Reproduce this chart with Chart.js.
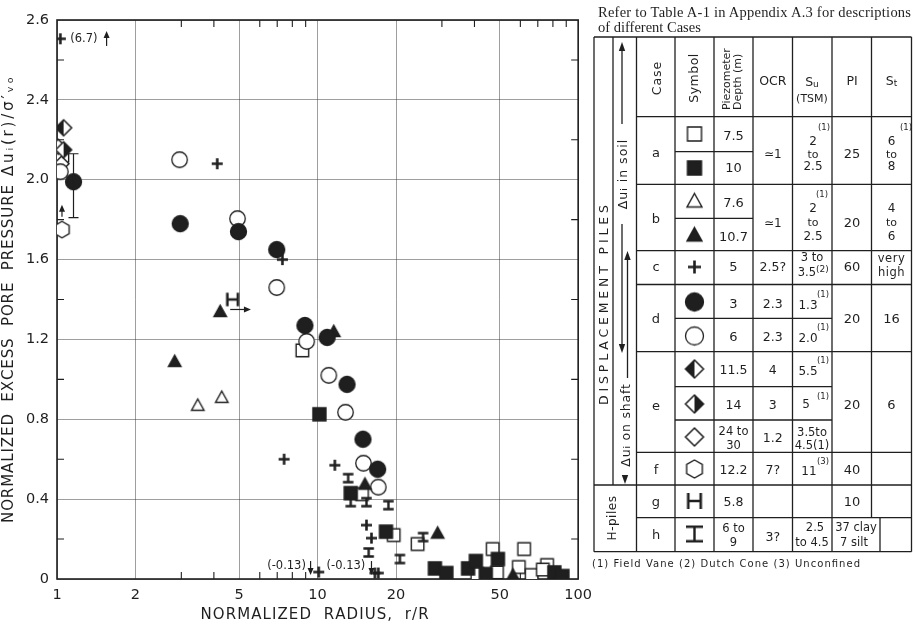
<!DOCTYPE html>
<html>
<head>
<meta charset="utf-8">
<script src="https://cdn.jsdelivr.net/npm/chart.js@4.4.1/dist/chart.umd.min.js"></script>
<style>
  html, body { margin: 0; padding: 0; background: #fff; }
  #wrap { position: relative; width: 915px; height: 627px; overflow: hidden; }
  #plot { position: absolute; left: 0; top: 0; }
  #table { position: absolute; left: 0; top: 0; }
</style>
</head>
<body>
<div id="wrap">
  <canvas id="plot" width="600" height="627"></canvas>
  <svg id="table" width="915" height="627" xmlns="http://www.w3.org/2000/svg"></svg>
</div>
<script>
// axes
const xTickValues = [1, 2, 5, 10, 20, 50, 100];
const xTickLabels = ['1', '2', '5', '10', '20', '50', '100'];
const yTickValues = [0, 0.4, 0.8, 1.2, 1.6, 2.0, 2.4, 2.8];
const yTickLabels = ['0', '0.4', '0.8', '1.2', '1.6', '2.0', '2.4', '2.6'];
const xMinorTicks = [3, 4, 6, 7, 8, 9, 30, 40, 60, 70, 80, 90];
const yMinorTicks = [0.2, 0.6, 1.0, 1.4, 1.8, 2.2, 2.6];

// data: [r/R, du/sigma]
const caseA_75 = [[8.74, 1.145], [14.8, 0.425], [19.6, 0.22], [24.2, 0.175], [47, 0.15], [62, 0.15],
  [59.2, 0.06], [48.8, 0.033], [41, 0.025], [66.3, 0.02], [76, 0.07], [73.2, 0.047]];
const caseA_10 = [[10.16, 0.825], [13.4, 0.43], [18.3, 0.237], [28.2, 0.053], [31.2, 0.03], [37.8, 0.053],
  [40.5, 0.09], [44.2, 0.025], [49.2, 0.10], [81, 0.033], [87, 0.015]];
const caseB_76 = [[3.47, 0.87], [4.29, 0.91]];
const caseB_107 = [[2.83, 1.09], [4.23, 1.34], [11.54, 1.24], [15.2, 0.475], [28.9, 0.23], [56.2, 0.02]];
const caseC = [[1.03, 2.706], [4.12, 2.08], [7.33, 1.60], [7.44, 0.60], [11.65, 0.57], [15.4, 0.27],
  [16.1, 0.205], [10.1, 0.035], [16.6, 0.03], [17.1, 0.03]];
const caseD_3 = [[1.157, 1.99], [2.97, 1.78], [4.97, 1.74], [6.97, 1.65], [8.94, 1.27], [10.88, 1.21],
  [12.97, 0.975], [14.93, 0.70], [17.0, 0.55]];
const caseD_6 = [[1.03, 2.04], [2.955, 2.10], [4.93, 1.805], [6.97, 1.46], [9.08, 1.19], [11.04, 1.02],
  [12.8, 0.835], [15.0, 0.58], [17.1, 0.46]];
const caseE_115 = [[1.06, 2.26]];
const caseE_14 = [[1.06, 2.15]];
const caseE_24 = [[1.01, 2.165], [1.04, 2.08]];
const caseF = [[1.045, 1.75], [1.04, 2.11]];
const caseG = [[4.72, 1.40]];
const caseH = [[13.1, 0.505], [13.4, 0.385], [15.4, 0.385], [18.7, 0.37], [15.7, 0.133], [20.7, 0.10], [25.4, 0.21]];

// notes on the plot
const errBar = { x: 1.157, low: 1.81, high: 2.13 };
const arrowMarks = [
  [1.55, 2.67, 1.55, 2.745],
  [1.045, 1.815, 1.045, 1.875],
  [4.62, 1.35, 5.55, 1.35],
  [9.4, 0.09, 9.4, 0.02],
  [16.1, 0.09, 16.1, 0.02]
];
const noteLabels = [
  ['(6.7)', 1.124, 2.706, 'left'],
  ['(-0.13)', 9.02, 0.065, 'right'],
  ['(-0.13)', 15.25, 0.065, 'right']
];

const ink = '#1f1f1f';
const fontFam = 'DejaVu Sans';

// marker shapes
function drawSymbol(ctx, kind, cx, cy, s) {
  const h = s / 2;
  ctx.save();
  ctx.strokeStyle = ink;
  ctx.fillStyle = ink;
  ctx.lineWidth = 1.4;
  ctx.beginPath();
  if (kind === 'sq' || kind === 'sqF') {
    ctx.rect(cx - h, cy - h, s, s);
    ctx.fillStyle = kind === 'sqF' ? ink : '#fff';
    ctx.fill();
    ctx.stroke();
  } else if (kind === 'tri' || kind === 'triF') {
    ctx.moveTo(cx, cy - h);
    ctx.lineTo(cx + h, cy + h * 0.8);
    ctx.lineTo(cx - h, cy + h * 0.8);
    ctx.closePath();
    ctx.fillStyle = kind === 'triF' ? ink : '#fff';
    ctx.fill();
    ctx.stroke();
  } else if (kind === 'plus') {
    ctx.lineWidth = 2.6;
    ctx.moveTo(cx - h, cy); ctx.lineTo(cx + h, cy);
    ctx.moveTo(cx, cy - h); ctx.lineTo(cx, cy + h);
    ctx.stroke();
  } else if (kind === 'dot' || kind === 'ring') {
    ctx.arc(cx, cy, h - 0.5, 0, Math.PI * 2);
    ctx.fillStyle = kind === 'dot' ? ink : '#fff';
    ctx.fill();
    ctx.lineWidth = 1.3;
    ctx.stroke();
  } else if (kind === 'dm' || kind === 'dmL' || kind === 'dmR') {
    ctx.moveTo(cx, cy - h); ctx.lineTo(cx + h, cy); ctx.lineTo(cx, cy + h); ctx.lineTo(cx - h, cy);
    ctx.closePath();
    ctx.fillStyle = '#fff';
    ctx.fill();
    if (kind !== 'dm') {
      const sgn = kind === 'dmL' ? -1 : 1;
      ctx.save();
      ctx.beginPath();
      ctx.moveTo(cx, cy - h); ctx.lineTo(cx + sgn * h, cy); ctx.lineTo(cx, cy + h);
      ctx.closePath();
      ctx.fillStyle = ink;
      ctx.fill();
      ctx.restore();
      ctx.beginPath();
      ctx.moveTo(cx, cy - h); ctx.lineTo(cx + h, cy); ctx.lineTo(cx, cy + h); ctx.lineTo(cx - h, cy);
      ctx.closePath();
    }
    ctx.lineWidth = 1.5;
    ctx.stroke();
  } else if (kind === 'hex') {
    for (let k = 0; k < 6; k++) {
      const a = -Math.PI / 2 + k * Math.PI / 3;
      const px = cx + h * Math.cos(a), py = cy + h * Math.sin(a);
      if (k === 0) ctx.moveTo(px, py); else ctx.lineTo(px, py);
    }
    ctx.closePath();
    ctx.fillStyle = '#fff';
    ctx.fill();
    ctx.stroke();
  } else if (kind === 'H') {
    ctx.lineWidth = 2.6;
    ctx.moveTo(cx - h * 0.78, cy - h); ctx.lineTo(cx - h * 0.78, cy + h);
    ctx.moveTo(cx + h * 0.78, cy - h); ctx.lineTo(cx + h * 0.78, cy + h);
    ctx.moveTo(cx - h * 0.78, cy); ctx.lineTo(cx + h * 0.78, cy);
    ctx.stroke();
  } else if (kind === 'I') {
    ctx.lineWidth = 2.4;
    ctx.moveTo(cx - h, cy - h + 1.2); ctx.lineTo(cx + h, cy - h + 1.2);
    ctx.moveTo(cx - h, cy + h - 1.2); ctx.lineTo(cx + h, cy + h - 1.2);
    ctx.moveTo(cx, cy - h + 1.2); ctx.lineTo(cx, cy + h - 1.2);
    ctx.stroke();
  }
  ctx.restore();
}

function makeSymbol(kind, s) {
  const n = Math.ceil(s) + 6;
  const cv = document.createElement('canvas');
  cv.width = n;
  cv.height = n;
  drawSymbol(cv.getContext('2d'), kind, n / 2, n / 2, s);
  return cv;
}

// first in list = drawn on top
const series = [
  { data: caseD_3, kind: 'dot', size: 17 },
  { data: caseB_107, kind: 'triF', size: 12.5 },
  { data: caseA_10, kind: 'sqF', size: 13 },
  { data: caseD_6, kind: 'ring', size: 16.5 },
  { data: caseH, kind: 'I', size: 10.5 },
  { data: caseG, kind: 'H', size: 13.5 },
  { data: caseC, kind: 'plus', size: 11 },
  { data: caseE_115, kind: 'dmL', size: 16 },
  { data: caseE_14, kind: 'dmR', size: 16 },
  { data: caseE_24, kind: 'dm', size: 15 },
  { data: caseF, kind: 'hex', size: 16.5 },
  { data: caseA_75, kind: 'sq', size: 12.5 },
  { data: caseB_76, kind: 'tri', size: 12.5 }
];

function drawArrow(ctx, x0, y0, x1, y1) {
  const ang = Math.atan2(y1 - y0, x1 - x0);
  const hl = 7, hw = 3;
  ctx.beginPath();
  ctx.moveTo(x0, y0);
  ctx.lineTo(x1 - Math.cos(ang) * hl * 0.7, y1 - Math.sin(ang) * hl * 0.7);
  ctx.stroke();
  ctx.beginPath();
  ctx.moveTo(x1, y1);
  ctx.lineTo(x1 - Math.cos(ang) * hl - Math.sin(ang) * hw, y1 - Math.sin(ang) * hl + Math.cos(ang) * hw);
  ctx.lineTo(x1 - Math.cos(ang) * hl + Math.sin(ang) * hw, y1 - Math.sin(ang) * hl - Math.cos(ang) * hw);
  ctx.closePath();
  ctx.fill();
}

function spacedText(ctx, str, x, y, targetW) {
  const chars = Array.from(str);
  const w0 = chars.reduce((a, c) => a + ctx.measureText(c).width, 0);
  const ls = chars.length > 1 ? (targetW - w0) / (chars.length - 1) : 0;
  let cx = x;
  chars.forEach(c => {
    ctx.fillText(c, cx, y);
    cx += ctx.measureText(c).width + ls;
  });
}

const decor = {
  id: 'decor',
  beforeDatasetsDraw(chart) {
    const { ctx, chartArea: a, scales } = chart;
    ctx.save();
    ctx.strokeStyle = ink;
    ctx.lineWidth = 1.6;
    ctx.strokeRect(a.left, a.top, a.right - a.left, a.bottom - a.top);
    ctx.lineWidth = 1.1;
    ctx.beginPath();
    xMinorTicks.forEach(v => {
      const px = scales.x.getPixelForValue(v);
      ctx.moveTo(px, a.bottom); ctx.lineTo(px, a.bottom - 7);
      ctx.moveTo(px, a.top); ctx.lineTo(px, a.top + 7);
    });
    yMinorTicks.forEach(v => {
      const py = scales.y.getPixelForValue(v);
      ctx.moveTo(a.left, py); ctx.lineTo(a.left + 7, py);
      ctx.moveTo(a.right, py); ctx.lineTo(a.right - 7, py);
    });
    ctx.stroke();
    ctx.restore();
  },
  afterDatasetsDraw(chart) {
    const { ctx, scales } = chart;
    const X = v => scales.x.getPixelForValue(v);
    const Y = v => scales.y.getPixelForValue(v);
    ctx.save();
    ctx.strokeStyle = ink;
    ctx.fillStyle = ink;
    ctx.lineWidth = 1.2;
    // error bar on the r/R ~ 1.16 point
    const ex = X(errBar.x), y1 = Y(errBar.high), y2 = Y(errBar.low);
    ctx.beginPath();
    ctx.moveTo(ex, y1); ctx.lineTo(ex, y2);
    ctx.moveTo(ex - 5, y1); ctx.lineTo(ex + 5, y1);
    ctx.moveTo(ex - 5, y2); ctx.lineTo(ex + 5, y2);
    ctx.stroke();
    arrowMarks.forEach(m => drawArrow(ctx, X(m[0]), Y(m[1]), X(m[2]), Y(m[3])));
    ctx.font = '11.5px "' + fontFam + '"';
    ctx.textBaseline = 'middle';
    noteLabels.forEach(n => {
      ctx.textAlign = n[3];
      ctx.fillText(n[0], X(n[1]), Y(n[2]));
    });
    ctx.restore();
  },
  afterDraw(chart) {
    const { ctx, chartArea: a } = chart;
    ctx.save();
    ctx.fillStyle = ink;
    ctx.font = '15px "' + fontFam + '"';
    ctx.textAlign = 'left';
    ctx.textBaseline = 'middle';
    // x title
    const xMid = (a.left + a.right) / 2 - 3;
    spacedText(ctx, 'NORMALIZED  RADIUS,  r/R', xMid - 114, 615, 228);
    // y title, rotated
    ctx.translate(9, 300);
    ctx.rotate(-Math.PI / 2);
    spacedText(ctx, 'NORMALIZED  EXCESS  PORE  PRESSURE', -223, 0, 338);
    spacedText(ctx, 'Δuᵢ(r)/σ′ᵥₒ', 124, 0, 99);
    ctx.restore();
  }
};

const tickFont = { family: fontFam, size: 14.5 };
const gridColor = 'rgba(40,40,40,0.5)';

new Chart(document.getElementById('plot'), {
  type: 'scatter',
  data: {
    datasets: series.map(s => ({
      data: s.data.map(p => ({ x: p[0], y: p[1] })),
      pointStyle: makeSymbol(s.kind, s.size),
      pointRadius: 8,
      showLine: false
    }))
  },
  options: {
    responsive: false,
    animation: false,
    devicePixelRatio: 1,
    layout: { padding: { top: 20, right: 19, left: 0, bottom: 0 } },
    plugins: { legend: { display: false }, tooltip: { enabled: false } },
    scales: {
      x: {
        type: 'logarithmic',
        min: 1,
        max: 100,
        afterBuildTicks: s => { s.ticks = xTickValues.map(v => ({ value: v })); },
        afterFit: s => { s.height = 48; },
        ticks: {
          callback: (v, i) => xTickLabels[i],
          autoSkip: false,
          maxRotation: 0,
          padding: 8,
          color: ink,
          font: tickFont
        },
        grid: { color: gridColor, lineWidth: 0.9, drawTicks: false },
        border: { display: false }
      },
      y: {
        type: 'linear',
        min: 0,
        max: 2.8,
        afterBuildTicks: s => { s.ticks = yTickValues.map(v => ({ value: v })); },
        afterFit: s => { s.width = 57; },
        ticks: {
          callback: (v, i) => yTickLabels[i],
          padding: 8,
          color: ink,
          font: tickFont
        },
        grid: { color: gridColor, lineWidth: 0.9, drawTicks: false },
        border: { display: false }
      }
    }
  },
  plugins: [decor]
});

// ---- case table on the right ----
const parts = [];
function ln(x1, y1, x2, y2) {
  parts.push(`<line x1="${x1}" y1="${y1}" x2="${x2}" y2="${y2}" stroke="${ink}" stroke-width="1.3"/>`);
}
function tx(x, y, str, size, extra) {
  parts.push(`<text x="${x}" y="${y}" font-size="${size || 13}" text-anchor="middle" dominant-baseline="central" ${extra || ''}>${str}</text>`);
}
function sup(x, y, str) { tx(x, y, str, 8.5); }
function rot(x, y, str, size, extra) {
  parts.push(`<text x="0" y="0" transform="translate(${x},${y}) rotate(-90)" font-size="${size || 12.5}" text-anchor="middle" dominant-baseline="central" ${extra || ''}>${str}</text>`);
}
function sym(kind, x, y, s) {
  const cv = makeSymbol(kind, s);
  parts.push(`<image href="${cv.toDataURL()}" x="${x - cv.width / 2}" y="${y - cv.height / 2}" width="${cv.width}" height="${cv.height}"/>`);
}
function arrowHead(x, y, dir) {
  const d = dir === 'up' ? -1 : 1;
  parts.push(`<polygon points="${x},${y} ${x - 3.2},${y - d * 9} ${x + 3.2},${y - d * 9}" fill="${ink}"/>`);
}

parts.push(`<text x="598" y="17" font-family="Liberation Serif" font-size="14.5" textLength="313" lengthAdjust="spacing">Refer to Table A-1 in Appendix A.3 for descriptions</text>`);
parts.push(`<text x="598" y="32" font-family="Liberation Serif" font-size="14.5">of different Cases</text>`);

// grid of the table
ln(594, 37, 911.5, 37); ln(594, 551.7, 911.5, 551.7);
ln(594, 37, 594, 551.7); ln(911.5, 37, 911.5, 551.7);
ln(613, 37, 613, 485);
ln(636.5, 37, 636.5, 551.7);
[675, 714, 753, 792.5, 832].forEach(c => ln(c, 37, c, 551.7));
ln(871.5, 37, 871.5, 517.7); ln(880, 517.7, 880, 551.7);
[116.7, 184.3, 250.7, 284.5, 351.7, 452.3, 517.7].forEach(r => ln(636.5, r, 911.5, r));
ln(594, 485, 911.5, 485);
[151.7, 218.3].forEach(r => ln(675, r, 753, r));
[318.3, 386.7, 420].forEach(r => ln(675, r, 832, r));

// header
rot(656, 78, 'Case', 12.5, 'letter-spacing="1"');
rot(693.5, 78, 'Symbol', 12.5, 'letter-spacing="0.5"');
parts.push(`<text x="0" y="0" transform="translate(726.5,110) rotate(-90)" font-size="11" dominant-baseline="central">Piezometer</text>`);
parts.push(`<text x="0" y="0" transform="translate(737,110) rotate(-90)" font-size="11" dominant-baseline="central">Depth (m)</text>`);
tx(772.8, 80, 'OCR', 12.5);
tx(812, 81, 'S<tspan font-size="9" dy="3">u</tspan>', 12.5);
tx(812, 98, '(TSM)', 11);
tx(852, 80, 'PI', 12.5);
tx(891.5, 80, 'S<tspan font-size="9" dy="3">t</tspan>', 12.5);

// case a
tx(656, 152, 'a');
sym('sq', 694.5, 134, 14); sym('sqF', 694.5, 168, 14);
tx(733.5, 135, '7.5'); tx(733.5, 167, '10');
tx(772.8, 154, '≃1', 12);
sup(824, 127, '(1)'); tx(813, 141, '2', 12); tx(813, 154, 'to', 11); tx(813, 166, '2.5', 12);
tx(852, 153, '25');
sup(906, 127, '(1)'); tx(891.5, 141, '6', 12); tx(891.5, 154, 'to', 11); tx(891.5, 166, '8', 12);

// case b
tx(656, 218, 'b');
sym('tri', 694.5, 201, 15); sym('triF', 694.5, 235, 15);
tx(733.5, 202, '7.6'); tx(733.5, 236, '10.7');
tx(772.8, 223, '≃1', 12);
sup(822, 194, '(1)'); tx(813, 208, '2', 12); tx(813, 222, 'to', 11); tx(813, 236, '2.5', 12);
tx(852, 222, '20');
tx(891.5, 208, '4', 12); tx(891.5, 222, 'to', 11); tx(891.5, 236, '6', 12);

// case c
tx(656, 266, 'c');
sym('plus', 694.5, 267, 13);
tx(733.5, 266, '5'); tx(772.8, 266, '2.5?', 12.5);
tx(812, 257, '3 to', 11.5);
parts.push(`<text x="816" y="272" font-size="11.5" text-anchor="end" dominant-baseline="central">3.5</text>`);
parts.push(`<text x="816" y="269" font-size="9" text-anchor="start" dominant-baseline="central">(2)</text>`);
tx(852, 266, '60');
tx(891.5, 258, 'very', 11.5, 'letter-spacing="0.5"'); tx(891.5, 272, 'high', 11.5, 'letter-spacing="0.5"');

// case d
tx(656, 318, 'd');
sym('dot', 694.5, 302, 19); sym('ring', 694.5, 336, 19);
tx(733.5, 303, '3'); tx(733.5, 336, '6');
tx(772.8, 303, '2.3', 12.5); tx(772.8, 336, '2.3', 12.5);
tx(808, 305, '1.3', 12); sup(823, 294, '(1)');
tx(808, 338, '2.0', 12); sup(823, 327, '(1)');
tx(852, 318, '20'); tx(891.5, 318, '16');

// case e
tx(656, 405, 'e');
sym('dmL', 694.5, 369, 18); sym('dmR', 694.5, 404, 18); sym('dm', 694.5, 437, 18);
tx(733.5, 369, '11.5', 12.5); tx(733.5, 404, '14', 12.5);
tx(733.5, 431, '24 to', 11.5); tx(733.5, 445, '30', 11.5);
tx(772.8, 369, '4', 12.5); tx(772.8, 404, '3', 12.5); tx(772.8, 437, '1.2', 12.5);
tx(808, 371, '5.5', 12); sup(823, 360, '(1)');
tx(806, 404, '5', 12); sup(823, 396, '(1)');
tx(812, 432, '3.5to', 11.5); tx(812, 445, '4.5(1)', 11.5);
tx(852, 404, '20'); tx(891.5, 404, '6');

// case f
tx(656, 469, 'f');
sym('hex', 694.5, 469, 18);
tx(733.5, 469, '12.2', 12.5); tx(772.8, 469, '7?', 12.5);
tx(809, 471, '11', 12); sup(823, 461, '(3)');
tx(852, 469, '40');

// case g
tx(656, 501, 'g');
sym('H', 694.5, 501, 16);
tx(733.5, 501, '5.8', 12.5);
tx(852, 501, '10');

// case h
tx(656, 534, 'h');
sym('I', 694.5, 534, 17);
tx(733.5, 528, '6 to', 11.5); tx(733.5, 542, '9', 11.5);
tx(772.8, 536, '3?', 12.5);
tx(815, 527, '2.5', 11.5); tx(812, 542, 'to 4.5', 11.5);
tx(856, 527, '37 clay', 11.5); tx(854, 542, '7 silt', 11.5);

// left label columns
rot(603.5, 305, 'DISPLACEMENT   PILES', 12.5, 'textLength="200" lengthAdjust="spacing"');
rot(612, 518, 'H-piles', 12, 'letter-spacing="0.5"');

// du in soil / on shaft arrows
ln(622, 50, 622, 124);
arrowHead(622, 42, 'up');
rot(622, 174, 'Δu<tspan font-size="9" dy="2">i</tspan><tspan dy="-2"> in soil</tspan>', 12.5, 'letter-spacing="1"');
ln(622, 224, 622, 344);
arrowHead(622, 353, 'down');
ln(627.5, 260, 627.5, 378);
arrowHead(627.5, 251, 'up');
rot(625, 425, 'Δu<tspan font-size="9" dy="2">i</tspan><tspan dy="-2"> on shaft</tspan>', 12.5, 'letter-spacing="0.8"');
arrowHead(625, 484, 'down');

// footnote
parts.push(`<text x="592" y="563" font-size="10" dominant-baseline="central" textLength="268" lengthAdjust="spacing">(1) Field Vane   (2) Dutch Cone   (3) Unconfined</text>`);

const svg = document.getElementById('table');
svg.setAttribute('font-family', fontFam);
svg.setAttribute('fill', ink);
svg.innerHTML = parts.join('');
</script>
</body>
</html>
